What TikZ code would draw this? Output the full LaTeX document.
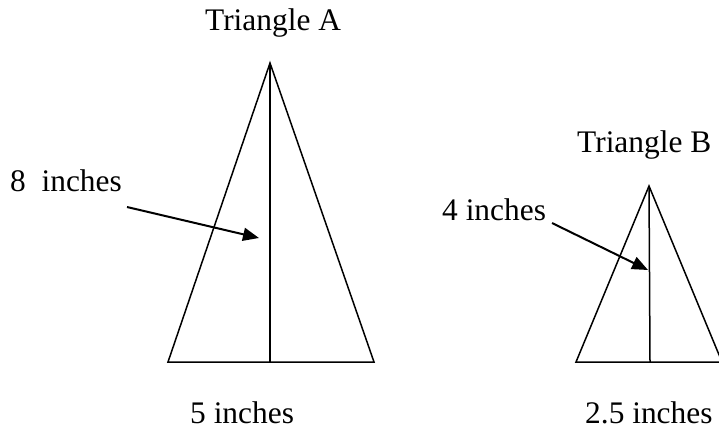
\documentclass[tikz,border=0pt]{standalone}
\usepackage{fontspec}
\setmainfont{Liberation Serif}
\usetikzlibrary{arrows.meta}
\definecolor{inkblack}{HTML}{000000}

\tikzset{
  edge/.style={inkblack,line width=1.5pt,line join=miter},
  pointer/.style={inkblack,line width=2pt,-{Triangle[length=16pt,width=13pt]}},
  caption/.style={anchor=base west,inner sep=0pt,font=\fontsize{31.4}{36}\selectfont}
}

\begin{document}
\begin{tikzpicture}[x=1pt,y=-1pt]

% Frame
\useasboundingbox (0,0) rectangle (719,429);
\clip (0,0) rectangle (719,429);
\fill[white] (0,0) rectangle (719,429);

% ===== TRIANGLE A =====
\coordinate (apexA) at (270,63);
\coordinate (leftA) at (168,362);
\coordinate (rightA) at (374,362);
\coordinate (footA) at (270,362);
\draw[edge] (apexA) -- (leftA) -- (rightA) -- cycle;
\draw[edge] (apexA) -- (footA);

\node[caption] (titleA) at (205,30) {Triangle A};
\node[caption] (heightA) at (10,191) {8\ \ inches};
\node[caption] (baseA) at (190,423) {5 inches};

% Arrow to altitude A
\coordinate (tailA) at (127,207);
\coordinate (tipA) at (259,238);
\draw[pointer] (tailA) -- (tipA);

% ===== TRIANGLE B =====
\coordinate (apexB) at (649,186);
\coordinate (leftB) at (576,362);
\coordinate (rightB) at (722,362);
\coordinate (footB) at (650,362);
\draw[edge] (apexB) -- (leftB) -- (rightB) -- cycle;
\draw[edge] (apexB) -- (footB);

\node[caption] (titleB) at (577,152) {Triangle B};
\node[caption] (heightB) at (442,220) {4 inches};
\node[caption] (baseB) at (585,423) {2.5 inches};

% Arrow to altitude B
\coordinate (tailB) at (552,223);
\coordinate (tipB) at (648,270);
\draw[pointer] (tailB) -- (tipB);

\end{tikzpicture}
\end{document}
